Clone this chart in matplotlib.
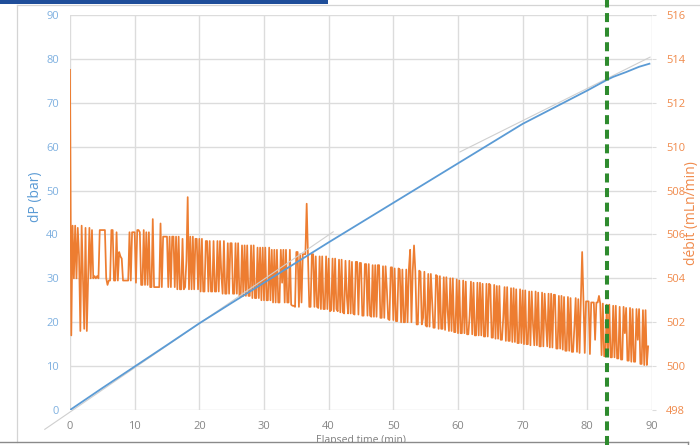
import numpy as np
import matplotlib
matplotlib.use("Agg")
import matplotlib.pyplot as plt
from matplotlib.transforms import blended_transform_factory
from matplotlib.lines import Line2D
from matplotlib.patches import Rectangle

plt.rcParams['font.family'] = ['Open Sans', 'DejaVu Sans']
plt.rcParams['lines.scale_dashes'] = False

# Pressure drop (bar) against elapsed time (min)
dp_time = [0, 5, 10, 15, 20, 25, 30, 35, 40, 45, 50, 55, 60, 65, 70, 75, 80,
           83, 84, 86, 88, 89.6]
dp_bar = [0, 5.0, 9.9, 14.8, 19.75, 24.4, 29.0, 33.6, 38.2, 42.7, 47.2, 51.7,
          56.2, 60.7, 65.2, 69.0, 72.8, 75.2, 75.9, 77.0, 78.2, 78.9]

# Slope guide lines (initial and late build-up rate)
guide1_time = [-3.9, 40.7]
guide1_bar = [-4.4, 40.6]
guide2_time = [60.3, 89.7]
guide2_bar = [58.8, 80.4]

# Gas flow (mLn/min), logged every 0.2 min
flow_step_min = 0.2
flow_mln = [
    # 0 - 5 min
    513.5, 501.4, 506.4, 504.0, 506.4, 504.0, 506.3, 505.0, 501.6, 506.4, 504.0, 501.7, 506.3,
    501.6, 504.0, 506.3, 504.0, 506.2, 504.0, 504.1, 504.0, 504.1, 504.0, 506.2, 506.2,
    # 5 - 10 min
    506.2, 506.2, 506.2, 504.0, 503.7, 503.9, 503.9, 506.2, 506.2, 503.9, 503.9, 506.1, 503.9,
    505.2, 505.0, 504.9, 503.9, 503.9, 503.9, 503.9, 503.9, 506.1, 503.9, 506.1, 506.1,
    # 10 - 15 min
    506.1, 503.8, 506.2, 506.2, 506.1, 503.7, 503.7, 506.2, 503.7, 506.1, 503.7, 506.1, 503.6,
    503.6, 506.7, 503.6, 503.6, 503.6, 503.6, 503.6, 506.5, 503.6, 505.9, 505.9, 505.9,
    # 15 - 20 min
    505.9, 503.6, 505.9, 503.6, 505.9, 505.9, 503.6, 505.9, 503.5, 505.9, 503.5, 503.5, 505.8,
    503.5, 503.6, 504.8, 507.7, 503.5, 505.9, 503.5, 505.9, 503.5, 505.8, 505.8, 503.5,
    # 20 - 25 min
    505.8, 503.4, 505.8, 503.4, 503.4, 505.7, 505.7, 503.4, 505.7, 503.4, 503.4, 505.7, 503.4,
    503.4, 505.7, 503.4, 505.7, 504.2, 503.3, 505.7, 503.3, 503.3, 505.6, 503.3, 505.6,
    # 25 - 30 min
    505.6, 503.3, 503.3, 505.6, 503.3, 505.6, 503.2, 503.2, 505.5, 503.2, 505.5, 503.2, 505.5,
    503.2, 503.2, 505.5, 503.1, 505.5, 503.1, 503.1, 505.4, 503.1, 505.4, 503.0, 505.4,
    # 30 - 35 min
    503.0, 505.4, 503.0, 503.0, 505.4, 503.0, 505.3, 502.9, 505.3, 502.9, 505.3, 502.9, 502.9,
    505.3, 503.8, 505.3, 502.9, 505.3, 502.9, 502.9, 505.3, 502.8, 502.75, 502.75, 502.7,
    # 35 - 40 min
    505.2, 505.2, 502.7, 505.1, 502.9, 505.1, 505.1, 505.1, 507.4, 505.1, 502.7, 502.7, 505.1,
    505.1, 502.7, 505.0, 502.7, 502.65, 505.0, 502.6, 505.0, 502.6, 502.6, 505.0, 502.6,
    # 40 - 45 min
    504.9, 502.5, 502.55, 504.9, 502.5, 504.9, 502.6, 502.5, 504.85, 502.45, 504.85, 502.45, 502.4,
    504.8, 503.2, 502.4, 504.8, 502.4, 504.75, 502.4, 502.35, 504.75, 504.75, 502.35, 504.7,
    # 45 - 50 min
    504.7, 502.3, 502.3, 504.65, 504.65, 502.3, 504.65, 502.3, 502.25, 504.6, 502.25, 504.6, 502.25,
    504.6, 504.6, 502.2, 502.2, 504.55, 502.2, 504.55, 503.5, 502.15, 502.1, 504.5, 504.5,
    # 50 - 55 min
    502.1, 504.45, 502.05, 502.05, 504.45, 504.4, 502.0, 504.4, 502.0, 502.0, 504.4, 502.0, 504.4,
    505.3, 502.0, 504.35, 505.5, 504.35, 501.9, 501.9, 504.35, 504.3, 501.9, 502.2, 504.3,
    # 55 - 60 min
    501.85, 501.8, 504.2, 501.8, 504.2, 503.0, 501.75, 501.75, 504.15, 504.1, 501.7, 504.1, 501.7,
    501.7, 504.05, 501.65, 504.05, 502.5, 501.6, 504.0, 501.6, 504.0, 501.55, 501.55, 503.95,
    # 60 - 65 min
    501.5, 503.9, 501.5, 501.5, 503.9, 501.5, 503.85, 501.45, 501.45, 502.3, 503.85, 501.45, 503.8,
    501.4, 501.4, 503.8, 501.4, 503.8, 501.4, 503.75, 501.35, 501.35, 503.75, 501.35, 503.75,
    # 65 - 70 min
    503.7, 501.3, 501.3, 503.7, 501.25, 503.65, 501.25, 503.65, 501.2, 501.2, 502.2, 503.6, 501.15,
    503.6, 501.15, 501.15, 503.55, 501.1, 503.55, 501.1, 503.5, 501.05, 501.05, 503.5, 501.05,
    # 70 - 75 min
    503.45, 501.0, 503.45, 501.0, 501.0, 503.4, 500.95, 503.4, 501.9, 500.95, 503.4, 500.95, 503.35,
    500.9, 500.9, 503.35, 500.9, 503.3, 502.0, 500.9, 503.3, 500.85, 503.3, 500.85, 503.25,
    # 75 - 80 min
    503.25, 500.8, 500.8, 503.2, 500.8, 503.2, 500.75, 503.15, 500.7, 500.7, 503.15, 500.7, 503.1,
    500.65, 500.65, 501.8, 503.1, 500.65, 503.05, 500.6, 503.05, 505.2, 503.0, 500.6, 502.95,
    # 80 - 85 min
    502.95, 502.95, 500.55, 502.9, 502.9, 502.9, 501.2, 502.9, 502.9, 503.2, 502.85, 500.5, 502.85,
    500.45, 500.45, 502.8, 500.45, 502.8, 500.4, 500.4, 502.75, 500.4, 502.75, 500.35, 500.35,
    # 85 - 89.4 min
    502.7, 500.3, 500.3, 502.7, 501.5, 502.65, 500.25, 500.25, 502.65, 500.2, 502.6, 500.2, 500.2,
    502.6, 501.2, 502.6, 500.1, 500.1, 502.55, 500.05, 502.55, 500.05, 500.9,
]
flow_time = np.arange(len(flow_mln)) * flow_step_min

# Moment marked by the dashed vertical line (min)
event_time = 83.0

x_ticks = list(range(0, 91, 10))
dp_ticks = list(range(0, 91, 10))
flow_ticks = list(range(498, 517, 2))

BLUE = '#5B9BD5'
ORANGE = '#ED7D31'
GRID = '#DCDCDC'

W, H = 700, 445
fig = plt.figure(figsize=(W / 100, H / 100), dpi=100)
fig.patch.set_facecolor('white')


def fx(px):
    return px / W


def fy(py):
    return 1 - py / H


left, right, top, bottom = 70, 652, 15, 410
rect = [fx(left), fy(bottom), fx(right) - fx(left), fy(top) - fy(bottom)]

# flow axis underneath (holds the grid), pressure axis on top
ax2 = fig.add_axes(rect)
ax = fig.add_axes(rect, sharex=ax2)
ax.set_zorder(ax2.get_zorder() + 1)
ax.patch.set_visible(False)

ax2.set_xlim(0, 90)
ax2.set_ylim(498, 516)
ax.set_ylim(0, 90)

ax2.yaxis.tick_right()
ax2.set_yticks(flow_ticks)
ax2.set_xticks(x_ticks)
ax.set_yticks(dp_ticks)
ax2.grid(True, color=GRID, linewidth=1.0)
ax2.set_axisbelow(True)

for a in (ax, ax2):
    for s in a.spines.values():
        s.set_visible(False)

ax2.tick_params(axis='y', which='both', right=True, left=False, labelright=True,
                labelleft=False, direction='out', length=3, width=0.8, color=GRID,
                labelsize=8, labelcolor='#F08A4B', pad=7)
ax2.tick_params(axis='x', length=0, labelsize=8, labelcolor='#858585', pad=8)
ax.tick_params(axis='y', length=0, labelsize=8, labelcolor='#7EB0E0', pad=8)
ax.tick_params(axis='x', length=0, labelbottom=False)

# flow trace
ax2.plot(flow_time, flow_mln, color=ORANGE, linewidth=1.25, zorder=3)

# pressure drop and slope guides
ax.plot(guide1_time, guide1_bar, color='#CFCFCF', linewidth=0.8, clip_on=False, zorder=2)
ax.plot(guide2_time, guide2_bar, color='#CFCFCF', linewidth=0.8, zorder=2)
ax.plot(dp_time, dp_bar, color=BLUE, linewidth=1.3, zorder=3)

# axis titles
fig.text(fx(36), fy(197), 'dP (bar)', rotation=90, ha='center', va='center',
         fontsize=10, color=BLUE)
fig.text(fx(692), fy(213), 'débit (mLn/min)', rotation=90, ha='center', va='center',
         fontsize=10, color='#F08A4B')
fig.text(fx(361), fy(440.5), 'Elapsed time (min)', ha='center', va='center',
         fontsize=7.5, color='#7F7F7F')

# window frame around the chart
fig.add_artist(Rectangle((0, fy(445)), 1, fy(442.5) - fy(445), transform=fig.transFigure,
                         facecolor='white', edgecolor='none', zorder=5))
fig.add_artist(Rectangle((0, fy(4)), fx(328), fy(0) - fy(4), transform=fig.transFigure,
                         facecolor='#1F4E9A', edgecolor='none', zorder=6))
fig.add_artist(Line2D([fx(17), 1], [fy(4.5), fy(4.5)], transform=fig.transFigure,
                      color='#D4D4D4', linewidth=0.9, zorder=6))
fig.add_artist(Line2D([fx(17), fx(17)], [fy(4.5), fy(442)], transform=fig.transFigure,
                      color='#D4D4D4', linewidth=0.9, zorder=6))
fig.add_artist(Line2D([0, fx(688)], [fy(442), fy(442)], transform=fig.transFigure,
                      color='#8A8A8A', linewidth=1.0, zorder=6))
fig.add_artist(Line2D([fx(688), fx(688)], [fy(442), 0], transform=fig.transFigure,
                      color='#8A8A8A', linewidth=1.0, zorder=6))

# dashed event marker across the whole height
trans = blended_transform_factory(ax.transData, fig.transFigure)
marker = Line2D([event_time, event_time], [0, 1], transform=trans, color='#2E8B2E',
                linewidth=2.9, linestyle=(0, (6.5, 4.0)), zorder=10)
fig.add_artist(marker)

fig.savefig('out.png', dpi=100, facecolor='white')
